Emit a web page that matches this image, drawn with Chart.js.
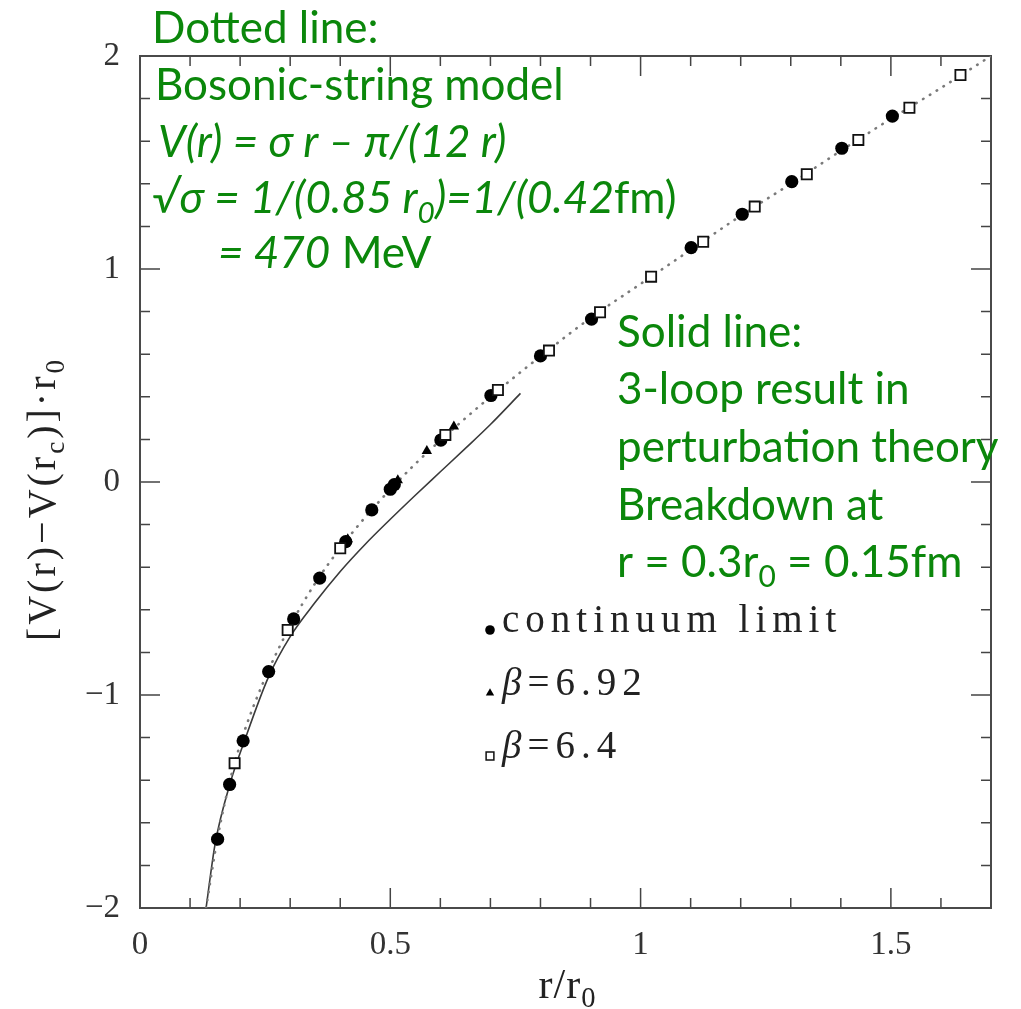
<!DOCTYPE html>
<html lang="en">
<head>
<meta charset="UTF-8">
<title>Static quark potential</title>
<script src="https://cdn.jsdelivr.net/npm/chart.js@4.4.1/dist/chart.umd.min.js"></script>
<style>
  html, body { margin: 0; padding: 0; background: #fff; }
  #wrap { width: 1021px; height: 1009px; }
</style>
</head>
<body>
<div id="wrap"><canvas id="myChart" width="1021" height="1009"></canvas></div>
<script>
// continuum limit (filled circles)
const contR = [0.155, 0.179, 0.206, 0.257, 0.307, 0.359, 0.411, 0.463, 0.500, 0.508, 0.601, 0.701, 0.800, 0.902, 1.101, 1.203, 1.302, 1.402, 1.503];
const contV = [-1.677, -1.42, -1.215, -0.89, -0.643, -0.451, -0.28, -0.131, -0.034, -0.012, 0.197, 0.406, 0.592, 0.765, 1.10, 1.257, 1.41, 1.567, 1.718];
// beta = 6.92 (filled triangles)
const b692R = [0.415, 0.515, 0.573, 0.627];
const b692V = [-0.269, 0.008, 0.146, 0.26];
// beta = 6.4 (open squares)
const b64R = [0.189, 0.295, 0.400, 0.610, 0.715, 0.817, 0.919, 1.021, 1.125, 1.228, 1.332, 1.435, 1.537, 1.639];
const b64V = [-1.32, -0.695, -0.311, 0.221, 0.432, 0.617, 0.797, 0.964, 1.128, 1.293, 1.445, 1.606, 1.757, 1.911];
// solid line: 3-loop perturbation theory
const ptR = [0.132, 0.15, 0.18, 0.207, 0.257, 0.30, 0.35, 0.40, 0.45, 0.50, 0.55, 0.60, 0.65, 0.70, 0.76];
const ptV = [-2.0, -1.70, -1.415, -1.227, -0.914, -0.726, -0.565, -0.42, -0.292, -0.175, -0.062, 0.048, 0.158, 0.27, 0.416];
// dotted line: bosonic string
const bsR = [0.132, 0.155, 0.18, 0.189, 0.21, 0.25, 0.30, 0.35, 0.40, 0.45, 0.50, 0.55, 0.60, 0.70, 0.80, 0.90, 1.0, 1.1, 1.2, 1.3, 1.4, 1.5, 1.6, 1.7];
const bsV = [-2.0, -1.67, -1.40, -1.32, -1.16, -0.92, -0.675, -0.475, -0.31, -0.165, -0.035, 0.085, 0.195, 0.40, 0.59, 0.77, 0.93, 1.09, 1.25, 1.40, 1.555, 1.705, 1.85, 2.0];

const xTicks = [0, 0.5, 1, 1.5];
const yTicks = [-2, -1, 0, 1, 2];

const GREEN = '#0b870b';
const SERIF = '"Liberation Serif", serif';
const SANS = 'Lato, sans-serif';

const pts = (xs, ys) => xs.map((v, i) => ({x: v, y: ys[i]}));

// draws a list of [text, style] runs; style: i = italic, s = subscript
function drawRuns(ctx, x, y, runs, size, family) {
    for (const [t, st] of runs) {
        const it = st.includes('i'), sub = st.includes('s');
        const fs = sub ? size * 0.68 : size;
        ctx.font = (it ? 'italic ' : '') + fs + 'px ' + family;
        ctx.fillText(t, x, sub ? y + size * 0.22 : y);
        x += ctx.measureText(t).width;
    }
    return x;
}
function runsWidth(ctx, runs, size, family) {
    let w = 0;
    for (const [t, st] of runs) {
        const fs = st.includes('s') ? size * 0.68 : size;
        ctx.font = (st.includes('i') ? 'italic ' : '') + fs + 'px ' + family;
        w += ctx.measureText(t).width;
    }
    return w;
}

const frameTicks = {
    id: 'frameTicks',
    beforeDatasetsDraw(chart) {
        const {ctx, chartArea: a, scales: {x, y}} = chart;
        ctx.save();
        ctx.strokeStyle = '#444';
        ctx.lineWidth = 1.5;
        ctx.beginPath();
        for (let i = 1; i < 17; i++) {
            const px = x.getPixelForValue(i / 10);
            const len = i % 5 === 0 ? 20 : 10;
            ctx.moveTo(px, a.bottom); ctx.lineTo(px, a.bottom - len);
            ctx.moveTo(px, a.top); ctx.lineTo(px, a.top + len);
        }
        for (let i = -9; i < 10; i++) {
            const py = y.getPixelForValue(i / 5);
            const len = i % 5 === 0 ? 20 : 10;
            ctx.moveTo(a.left, py); ctx.lineTo(a.left + len, py);
            ctx.moveTo(a.right, py); ctx.lineTo(a.right - len, py);
        }
        ctx.stroke();
        ctx.strokeStyle = '#4a4a4a';
        ctx.lineWidth = 2;
        ctx.strokeRect(a.left, a.top, a.width, a.height);
        ctx.restore();
    },
    afterDraw(chart) {
        const {ctx} = chart;
        ctx.save();
        ctx.fillStyle = '#222';
        ctx.textBaseline = 'alphabetic';

        // x title
        const xt = [['r/r', ''], ['0', 's']];
        const a = chart.chartArea;
        ctx.letterSpacing = '1px';
        const xw = runsWidth(ctx, xt, 42, SERIF);
        drawRuns(ctx, (a.left + a.right) / 2 - xw / 2 + 2, 998, xt, 42, SERIF);

        // y title, rotated
        ctx.letterSpacing = '3px';
        const yt = [['[V(r)\u2212V(r', ''], ['c', 's'], [')]\u00b7r', ''], ['0', 's']];
        const yw = runsWidth(ctx, yt, 40, SERIF);
        ctx.save();
        ctx.translate(55, (a.top + a.bottom) / 2 + yw / 2 + 17);
        ctx.rotate(-Math.PI / 2);
        drawRuns(ctx, 0, 0, yt, 40, SERIF);
        ctx.restore();

        // legend from the point datasets
        const items = [[2, 632], [3, 695], [4, 758]];
        for (const [di, by] of items) {
            const ds = chart.data.datasets[di];
            ctx.fillStyle = ds.backgroundColor;
            ctx.strokeStyle = ds.borderColor;
            ctx.lineWidth = 1.5;
            const r = ds.pointStyle === 'rect' ? 5.5 : 4.8;
            Chart.helpers.drawPoint(ctx, {pointStyle: ds.pointStyle, radius: r, rotation: 0, borderWidth: ds.pointStyle === 'rect' ? 1.5 : 0}, 490, by - 2);
            ctx.fillStyle = '#222';
            ctx.letterSpacing = '6px';
            let runs = ds.label.startsWith('\u03b2') ? [['\u03b2', 'i'], [ds.label.slice(1), '']] : [[ds.label, '']];
            drawRuns(ctx, 502, by, runs, 39, SERIF);
        }
        ctx.letterSpacing = '0px';

        // green annotations
        ctx.fillStyle = GREEN;
        const fs = 44;
        drawRuns(ctx, 152, 43, [['Dotted line:', '']], fs, SANS);
        drawRuns(ctx, 155, 100, [['Bosonic-string model', '']], fs, SANS);
        drawRuns(ctx, 158, 157, [['V(r) = \u03c3 r \u2013 \u03c0/(12 r)', 'i']], fs, SANS);
        drawRuns(ctx, 152, 213, [['\u221a\u03c3 = 1/(0.85 r', 'i'], ['0', 'is'], [')=1/(0.42', 'i'], ['fm)', '']], fs, SANS);
        drawRuns(ctx, 218, 268, [['= 470', 'i'], [' MeV', '']], fs, SANS);

        drawRuns(ctx, 617, 347, [['Solid line:', '']], fs, SANS);
        drawRuns(ctx, 617, 404, [['3-loop result in', '']], fs, SANS);
        drawRuns(ctx, 617, 462, [['perturbation theory', '']], fs, SANS);
        drawRuns(ctx, 617, 520, [['Breakdown at', '']], fs, SANS);
        drawRuns(ctx, 617, 577, [['r = 0.3r', ''], ['0', 's'], [' = 0.15fm', '']], fs, SANS);
        ctx.restore();
    }
};

const tickFont = {family: SERIF, size: 33};
const fmt = v => String(v).replace('-', '\u2212');

const myChart = new Chart(document.getElementById('myChart'), {
    type: 'scatter',
    data: {
        datasets: [
            {label: '3-loop perturbation theory', data: pts(ptR, ptV), showLine: true, pointRadius: 0,
             borderColor: '#3a3a3a', borderWidth: 1.6, cubicInterpolationMode: 'monotone', order: 5},
            {label: 'bosonic string', data: pts(bsR, bsV), showLine: true, pointRadius: 0,
             borderColor: '#7a7a7a', borderWidth: 2.6, borderDash: [0.5, 7.5], borderCapStyle: 'round',
             cubicInterpolationMode: 'monotone', order: 4},
            {label: 'continuum limit', data: pts(contR, contV), pointStyle: 'circle', pointRadius: 6.6,
             backgroundColor: '#000', borderColor: '#000', borderWidth: 0, order: 3},
            {label: '\u03b2=6.92', data: pts(b692R, b692V), pointStyle: 'triangle', pointRadius: 6,
             backgroundColor: '#000', borderColor: '#000', borderWidth: 0, order: 2},
            {label: '\u03b2=6.4', data: pts(b64R, b64V), pointStyle: 'rect', pointRadius: 7.2,
             backgroundColor: '#fff', borderColor: '#111', borderWidth: 1.8, order: 1}
        ]
    },
    options: {
        responsive: false,
        animation: false,
        events: [],
        layout: {padding: {top: 56, right: 30, left: 0, bottom: 0}},
        plugins: {legend: {display: false}, tooltip: {enabled: false}},
        scales: {
            x: {
                type: 'linear', min: 0, max: 1.7,
                afterFit: s => { s.height = 101; },
                afterBuildTicks: s => { s.ticks = xTicks.map(v => ({value: v})); },
                grid: {display: false, drawTicks: false},
                border: {display: false},
                ticks: {padding: 18, font: tickFont, color: '#333', maxRotation: 0, callback: fmt}
            },
            y: {
                type: 'linear', min: -2, max: 2,
                afterFit: s => { s.width = 140; },
                afterBuildTicks: s => { s.ticks = yTicks.map(v => ({value: v})); },
                grid: {display: false, drawTicks: false},
                border: {display: false},
                ticks: {padding: 20, font: tickFont, color: '#333', callback: fmt}
            }
        }
    },
    plugins: [frameTicks]
});
</script>
</body>
</html>
